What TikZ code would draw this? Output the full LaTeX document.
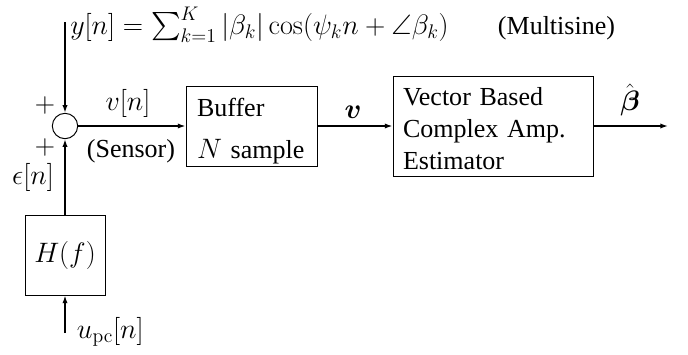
\RequirePackage{fix-cm}
\documentclass[tikz,border=0pt]{standalone}
\usepackage{amsmath,amssymb}
\usepackage[no-math]{fontspec}
\setmainfont{Liberation Serif}
\DeclareMathSizes{18.5}{20}{14}{10}
\usetikzlibrary{arrows.meta,positioning}

\begin{document}
\begin{tikzpicture}[
  >={Latex[length=5.5pt,width=3.8pt]},
  font=\fontsize{18.5}{22.7}\selectfont,
  blk/.style={draw,line width=0.7pt,align=left,inner ysep=0pt},
  sumnode/.style={circle,draw,line width=0.7pt,minimum size=0.635cm,inner sep=0pt},
  sig/.style={->,line width=1.3pt}
]
  \useasboundingbox (0,0) rectangle (17.2,8.85);
  % blocks
  \node[sumnode] (sum) at (1.625,5.7) {};
  \node[blk,minimum width=3.275cm,minimum height=2cm,text width=2.725cm,inner xsep=0.275cm] (buf) at (6.2875,5.7) {\rule{0pt}{0.7cm}Buffer\\[7pt]$N$ sample};
  \node[blk,minimum width=5cm,minimum height=2.5cm,text width=4.5cm,inner xsep=0.25cm] (est) at (12.325,5.7) {\rule{0pt}{0.6cm}Vector Based\\Complex Amp.\\Estimator};
  \node[blk,minimum size=2cm,align=center] (H) at (1.625,2.475) {$H(f)$};
  \coordinate (ytop) at (1.625,8.3);
  \coordinate (upc) at (1.625,0.525);
  \coordinate (out) at (16.7,5.7);
  % signal paths
  \draw[sig] (ytop) -- (sum);
  \draw[sig] (H) -- (sum);
  \draw[sig] (upc) -- (H);
  \draw[sig] (sum) -- (buf);
  \draw[sig] (buf) -- (est);
  \draw[sig] (est) -- (out);
  % labels
  \node[anchor=base west,inner sep=0pt] (yeq) at (1.75,8.0) {$y[n]=\sum_{k=1}^{K}|\beta_k|\cos(\psi_k n+\angle\beta_k)$};
  \node[anchor=base west] (msine) at (12.325,8.0) {(Multisine)};
  \node (plus1) at (1.125,6.225) {$+$};
  \node (plus2) at (1.125,5.175) {$+$};
  \node[anchor=base] (vn) at (3.2,6.1) {$v[n]$};
  \node[anchor=base] (sensor) at (3.275,4.925) {(Sensor)};
  \node (eps) at (0.825,4.425) {$\epsilon[n]$};
  \node (vvec) at (8.825,6.05) {$\boldsymbol{v}$};
  \node[inner sep=0pt] (bhat) at (15.75,6.35) {$\hat{\boldsymbol{\beta}}$};
  \node[anchor=west] (ulabel) at (1.8,0.55) {$u_{\mathrm{pc}}[n]$};
\end{tikzpicture}
\end{document}
